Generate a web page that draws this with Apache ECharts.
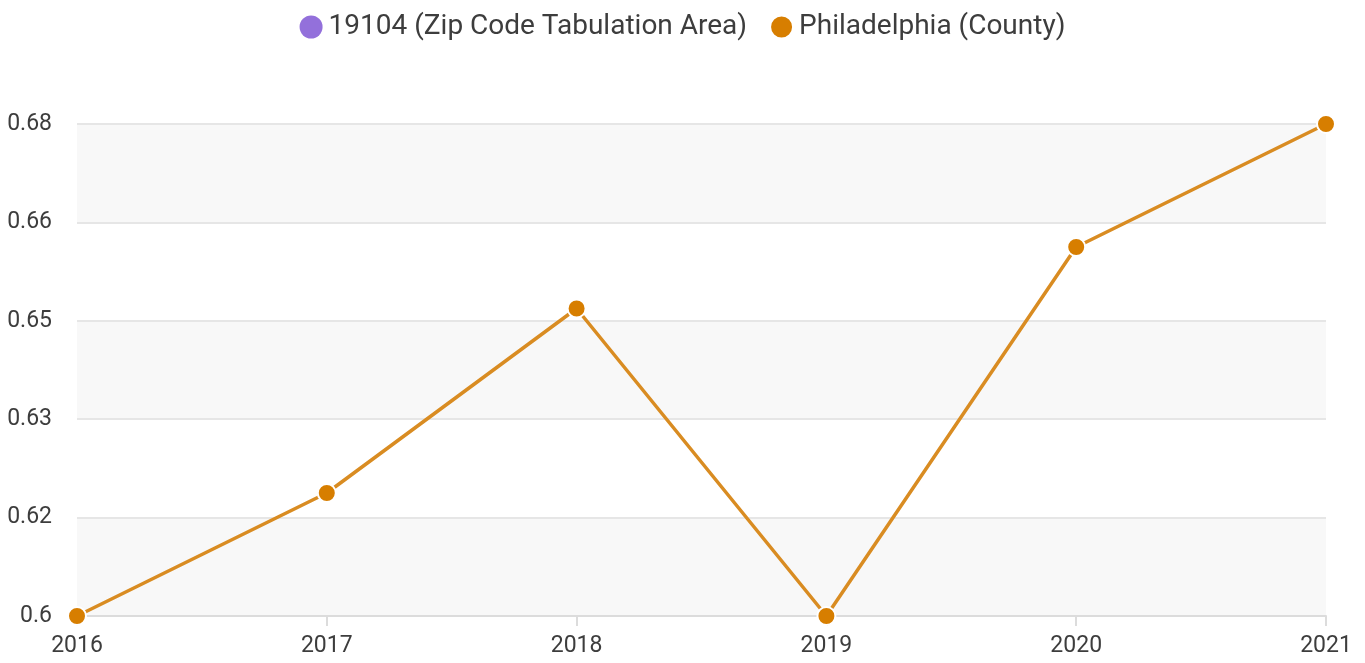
<!DOCTYPE html>
<html>
<head>
<meta charset="utf-8">
<script src="https://cdn.jsdelivr.net/npm/echarts@6/dist/echarts.min.js"></script>
<style>
  html, body { margin: 0; padding: 0; background: #fff; }
  #chart { width: 1365px; height: 663px; }
</style>
</head>
<body>
<div id="chart"></div>
<script>
  // 数据
  const years = ['2016', '2017', '2018', '2019', '2020', '2021'];
  const zipValues = [];   // 19104 有图例但无数据
  const phillyValues = [0.6, 0.62, 0.65, 0.6, 0.66, 0.68];
  const seriesNames = ['19104 (Zip Code Tabulation Area)', 'Philadelphia (County)'];

  const chart = echarts.init(document.getElementById('chart'));
  chart.setOption({
    animation: false,
    textStyle: { fontFamily: 'Roboto' },
    legend: {
      top: 8,
      left: 'center',
      icon: 'circle',
      itemWidth: 23,
      itemHeight: 23,
      itemGap: 22,
      textStyle: { fontSize: 28, color: '#3d3d3d', padding: [0, 0, 0, 1] },
      data: seriesNames
    },
    grid: { left: 77, right: 39, top: 124, bottom: 47 },
    xAxis: {
      type: 'category',
      boundaryGap: false,
      data: years,
      axisLine: { lineStyle: { color: '#dcdcdc', width: 2 } },
      axisTick: { show: true, length: 10, lineStyle: { color: '#dcdcdc', width: 2 } },
      axisLabel: { fontSize: 23, color: '#3d3d3d', margin: 19 }
    },
    yAxis: {
      type: 'value',
      min: 0.6,
      max: 0.68,
      interval: 0.016,
      axisLine: { show: false },
      axisTick: { show: false },
      axisLabel: {
        fontSize: 23, color: '#3d3d3d', margin: 25,
        padding: [0, 0, 8, 0],
        formatter: v => String(Math.round(v * 100) / 100)
      },
      splitLine: { lineStyle: { color: '#e6e6e6', width: 2 } },
      splitArea: { show: true, areaStyle: { color: ['#f8f8f8', '#ffffff'] } }
    },
    series: [
      {
        name: seriesNames[0],
        type: 'line',
        data: zipValues,
        itemStyle: { color: '#9370db' }
      },
      {
        name: seriesNames[1],
        type: 'line',
        data: phillyValues,
        symbol: 'circle',
        symbolSize: 18,
        lineStyle: { color: '#d98c22', width: 3.5 },
        itemStyle: { color: '#d77e00', borderColor: '#fff', borderWidth: 2 }
      }
    ]
  });
</script>
</body>
</html>
